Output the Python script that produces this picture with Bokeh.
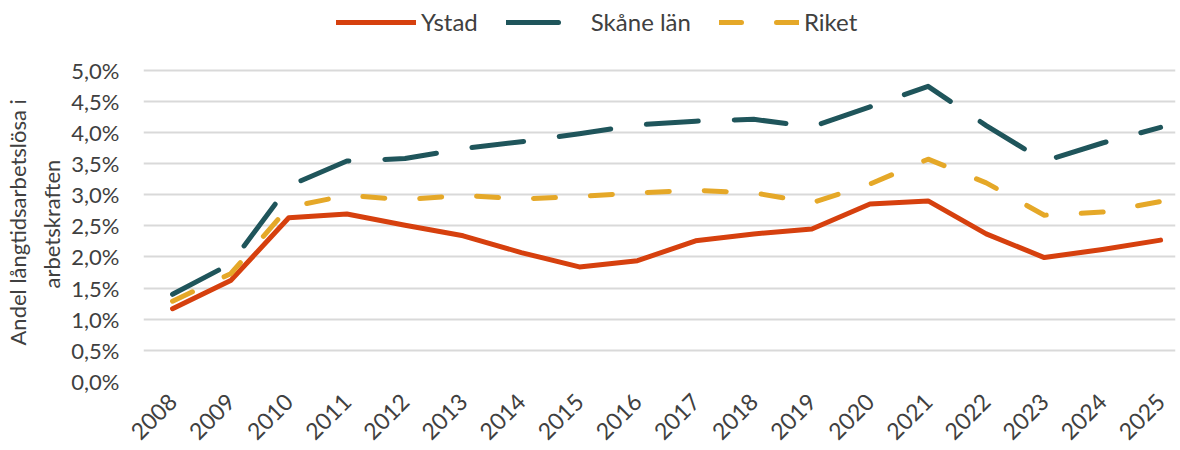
from bokeh.plotting import figure
from bokeh.models import Range1d, FixedTicker, CustomJSTickFormatter, Legend, LegendItem, ColumnDataSource, Title
from bokeh.embed import file_html
from bokeh.resources import INLINE
import math

years = list(range(2008, 2026))
ystad = [1.17, 1.62, 2.63, 2.69, 2.51, 2.34, 2.07, 1.84, 1.94, 2.26, 2.37, 2.45, 2.85, 2.90, 2.37, 1.99, 2.12, 2.27]
skane = [1.40, 1.89, 3.14, 3.54, 3.58, 3.74, 3.85, 3.98, 4.12, 4.18, 4.21, 4.09, 4.41, 4.74, 4.11, 3.54, 3.83, 4.08]
riket = [1.29, 1.73, 2.80, 2.99, 2.92, 2.99, 2.93, 2.97, 3.03, 3.07, 3.03, 2.87, 3.17, 3.57, 3.19, 2.67, 2.72, 2.89]
series_names = ["Ystad", "Skåne län", "Riket"]
y_ticks = [0, 0.5, 1, 1.5, 2, 2.5, 3, 3.5, 4, 4.5, 5]
y_title_lines = ["Andel långtidsarbetslösa i", "arbetskraften"]

FONT = "Lato"
TXT = "#404040"

# frame spans from the top of the figure down to y=383; 5,0 % gridline sits at y=70
p = figure(width=1180, height=450, output_backend="svg", toolbar_location=None,
           x_range=Range1d(2007.5, 2007.5 + (1175 - 138) / 58.4),
           y_range=Range1d(0, 5 * 383 / 313),
           min_border_left=138, min_border_right=5, min_border_top=0, min_border_bottom=67)
p.outline_line_color = None
p.background_fill_color = "white"
p.border_fill_color = "white"

src = ColumnDataSource(dict(x=years, ystad=ystad, skane=skane, riket=riket))
r1 = p.line("x", "ystad", source=src, line_color="#D6400E", line_width=5, line_join="round", line_cap="round")
r2 = p.line("x", "skane", source=src, line_color="#1F555B", line_width=5, line_join="round", line_cap="round",
            line_dash="52 36")
r3 = p.line("x", "riket", source=src, line_color="#E5A828", line_width=5, line_join="round", line_cap="round",
            line_dash="22 35")

p.xgrid.grid_line_color = None
p.ygrid.grid_line_color = "#D9D9D9"
p.ygrid.grid_line_width = 2
p.ygrid.ticker = FixedTicker(ticks=y_ticks)

p.yaxis.ticker = FixedTicker(ticks=y_ticks)
p.yaxis.formatter = CustomJSTickFormatter(code="return tick.toFixed(1).replace('.', ',') + '%';")
p.xaxis.ticker = FixedTicker(ticks=years)
p.xaxis.major_label_orientation = math.pi / 4

for ax in (p.xaxis[0], p.yaxis[0]):
    ax.axis_line_color = None
    ax.major_tick_line_color = None
    ax.minor_tick_line_color = None
    ax.major_label_text_font = FONT
    ax.major_label_text_color = TXT
p.yaxis.major_label_text_font_size = "22px"
p.xaxis.major_label_text_font_size = "23px"
p.yaxis.major_label_standoff = 18
p.xaxis.major_label_standoff = 10

# two-line y title, positioned along the 0-5 % part of the frame
p.add_layout(Title(text=y_title_lines[1], align="left", offset=93, standoff=8,
                   text_font=FONT, text_font_size="22px", text_font_style="normal",
                   text_color=TXT), "left")
p.add_layout(Title(text=y_title_lines[0], align="left", offset=36, standoff=2,
                   text_font=FONT, text_font_size="22px", text_font_style="normal",
                   text_color=TXT), "left")

legend = Legend(items=[LegendItem(label=series_names[0], renderers=[r1]),
                       LegendItem(label=series_names[1], renderers=[r2]),
                       LegendItem(label=series_names[2], renderers=[r3])],
                orientation="horizontal", location=(193, 345),
                glyph_width=80, glyph_height=20, label_standoff=5, spacing=28,
                padding=2, margin=0, border_line_color=None, background_fill_alpha=0,
                label_text_font=FONT, label_text_font_size="24px", label_text_color=TXT)
p.add_layout(legend, "center")

open("out.html", "w").write(file_html(p, INLINE))
